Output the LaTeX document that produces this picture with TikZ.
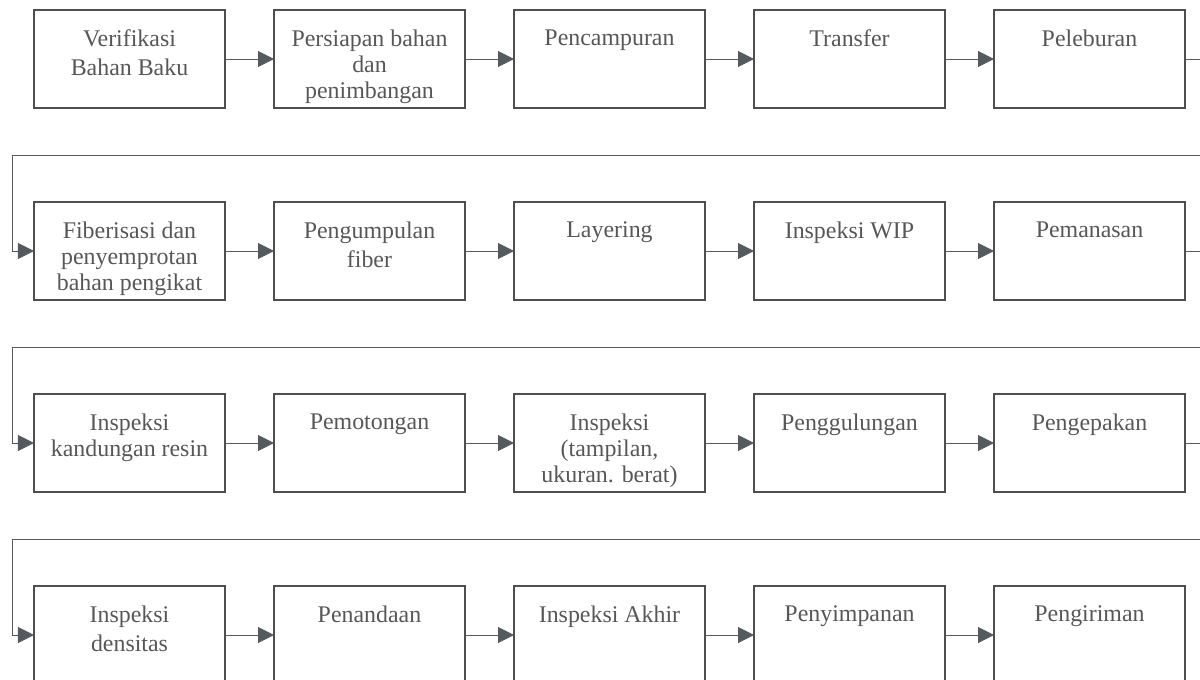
\documentclass[tikz,border=0pt]{standalone}
\usepackage{fontspec}
\setmainfont{Liberation Serif}
\usetikzlibrary{arrows.meta,positioning}
\definecolor{boxgrey}{HTML}{4E4E4E}
\definecolor{textgrey}{HTML}{575757}
\definecolor{tipgrey}{HTML}{535B61}

\begin{document}
\begin{tikzpicture}[node distance=2.35cm and 1.225cm, >={Triangle[length=0.4cm,width=0.4cm]}]

	% Styles
	\tikzstyle{block} = [rectangle, draw=boxgrey, line width=1.4pt, inner sep=0pt, outer sep=0pt, minimum height=2.45cm, minimum width=4.775cm, text=textgrey, font=\fontsize{17}{20.5}\selectfont, execute at begin node={\begin{minipage}[c][2.45cm][t]{4.7cm}\centering\vspace*{0.5cm}}, execute at end node={\end{minipage}}]
	\tikzstyle{tight} = [block, font=\fontsize{17}{18.5}\selectfont]
	\tikzstyle{arrow} = [->, draw=tipgrey, line width=0.7pt]

	% Frame (the page is cut on the right and at the bottom)
	\useasboundingbox (-3.2375,1.475) rectangle (26.7625,-15.5);
	\clip (-3.2375,1.475) rectangle (26.7625,-15.5);

	% Nodes
	\node[block] (verifikasi) {Verifikasi\\Bahan Baku};
	\node[tight, right=of verifikasi] (persiapan) {Persiapan bahan\\dan\\penimbangan};
	\node[block, right=of persiapan] (pencampuran) {Pencampuran};
	\node[block, right=of pencampuran] (transfer) {Transfer};
	\node[block, right=of transfer] (peleburan) {Peleburan};

	\node[tight, below=of verifikasi] (fiberisasi) {Fiberisasi dan\\penyemprotan\\bahan pengikat};
	\node[block, right=of fiberisasi] (pengumpulan) {Pengumpulan\\fiber};
	\node[block, right=of pengumpulan] (layering) {Layering};
	\node[block, right=of layering] (wip) {Inspeksi WIP};
	\node[block, right=of wip] (pemanasan) {Pemanasan};

	\node[tight, below=of fiberisasi] (resin) {Inspeksi\\kandungan resin};
	\node[block, right=of resin] (pemotongan) {Pemotongan};
	\node[tight, right=of pemotongan] (tampilan) {Inspeksi\\(tampilan,\\ukuran. berat)};
	\node[block, right=of tampilan] (penggulungan) {Penggulungan};
	\node[block, right=of penggulungan] (pengepakan) {Pengepakan};

	\node[block, below=of resin] (densitas) {Inspeksi\\densitas};
	\node[block, right=of densitas] (penandaan) {Penandaan};
	\node[block, right=of penandaan] (akhir) {Inspeksi Akhir};
	\node[block, right=of akhir] (penyimpanan) {Penyimpanan};
	\node[block, right=of penyimpanan] (pengiriman) {Pengiriman};

	% Turning points on the left
	\coordinate (wrapa) at (-2.93,-2.4);
	\coordinate (wrapb) at (-2.93,-7.2);
	\coordinate (wrapc) at (-2.93,-12);

	% Arrows (row by row)
	\draw[arrow] (verifikasi) -- (persiapan);
	\draw[arrow] (persiapan) -- (pencampuran);
	\draw[arrow] (pencampuran) -- (transfer);
	\draw[arrow] (transfer) -- (peleburan);
	\draw[arrow] (peleburan.east) -- ++(0.6,0) |- (wrapa) |- (fiberisasi);

	\draw[arrow] (fiberisasi) -- (pengumpulan);
	\draw[arrow] (pengumpulan) -- (layering);
	\draw[arrow] (layering) -- (wip);
	\draw[arrow] (wip) -- (pemanasan);
	\draw[arrow] (pemanasan.east) -- ++(0.6,0) |- (wrapb) |- (resin);

	\draw[arrow] (resin) -- (pemotongan);
	\draw[arrow] (pemotongan) -- (tampilan);
	\draw[arrow] (tampilan) -- (penggulungan);
	\draw[arrow] (penggulungan) -- (pengepakan);
	\draw[arrow] (pengepakan.east) -- ++(0.6,0) |- (wrapc) |- (densitas);

	\draw[arrow] (densitas) -- (penandaan);
	\draw[arrow] (penandaan) -- (akhir);
	\draw[arrow] (akhir) -- (penyimpanan);
	\draw[arrow] (penyimpanan) -- (pengiriman);

\end{tikzpicture}
\end{document}
